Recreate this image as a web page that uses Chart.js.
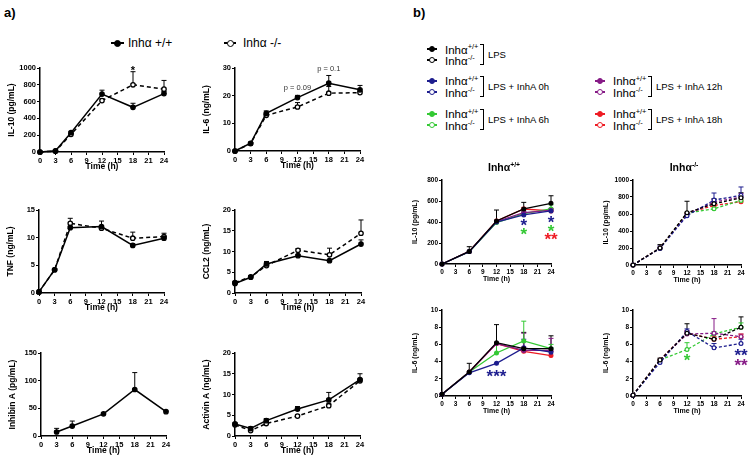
<!DOCTYPE html>
<html>
<head>
<meta charset="utf-8">
<script src="https://cdn.jsdelivr.net/npm/chart.js@4.4.0/dist/chart.umd.min.js"></script>
<style>
  body { margin: 0; width: 750px; height: 461px; position: relative; background: #fff; overflow: hidden;
         font-family: "Liberation Sans", Arial, sans-serif; }
  canvas { position: absolute; }
  .t { position: absolute; white-space: nowrap; color: #000; line-height: 1; }
  .t sup { font-size: 65%; vertical-align: 0; position: relative; top: -0.6em; }
</style>
</head>
<body>
<script>
// time points
const hoursA = [0, 3, 6, 12, 18, 24];
const hoursInhibin = [3, 6, 12, 18, 24];
const hoursB = [0, 6, 12, 18, 24];

// panel a) means and upper error (SEM)
const il10WT = [0, 15, 230, 690, 532, 695];
const il10WTErr = [0, 5, 12, 46, 48, 25];
const il10KO = [0, 10, 210, 612, 800, 748];
const il10KOErr = [0, 5, 10, 22, 156, 104];

const il6WT = [0, 2.8, 13.6, 19.3, 24.5, 22.1];
const il6WTErr = [0, 0.3, 0.9, 0.8, 2.8, 1.6];
const il6KO = [0, 2.7, 12.9, 15.9, 20.9, 21.1];
const il6KOErr = [0, 0.3, 0.5, 1.6, 2.4, 0.5];

const tnfWT = [0.2, 4.2, 11.8, 12.0, 8.6, 9.9];
const tnfWTErr = [0, 0.2, 0.3, 1.0, 0.3, 0.3];
const tnfKO = [0.2, 4.2, 12.6, 11.7, 9.9, 10.2];
const tnfKOErr = [0, 0.2, 0.9, 0.5, 1.1, 0.6];

const ccl2WT = [2.3, 3.8, 7.0, 9.0, 7.8, 11.8];
const ccl2WTErr = [0.3, 0.2, 0.6, 0.3, 0.3, 1.0];
const ccl2KO = [2.5, 3.9, 6.6, 10.3, 9.2, 14.4];
const ccl2KOErr = [0.3, 0.2, 0.3, 0.4, 1.6, 3.2];

const inhibinWT = [7.2, 18, 40, 84, 44];
const inhibinWTErr = [6.6, 9, 1, 30.6, 1];

const activinWT = [2.9, 1.8, 3.7, 6.5, 8.7, 13.6];
const activinWTErr = [0.3, 0.4, 0.5, 0.6, 1.8, 1.4];
const activinKO = [2.7, 1.3, 3.0, 4.8, 7.3, 13.3];
const activinKOErr = [0.2, 0.3, 0.3, 0.3, 0.6, 0.5];

// panel b) IL-10, Inha +/+
const bIl10WT_LPS = [0, 120, 410, 524, 578];
const bIl10WT_LPSErr = [0, 45, 104, 63, 72];
const bIl10WT_0h = [0, 118, 400, 467, 505];
const bIl10WT_0hErr = [0, 0, 0, 20, 20];
const bIl10WT_6h = [0, 118, 395, 480, 524];
const bIl10WT_6hErr = [0, 0, 0, 20, 40];
const bIl10WT_12h = [0, 120, 405, 490, 510];
const bIl10WT_12hErr = [0, 0, 0, 15, 20];
const bIl10WT_18h = [0, 120, 410, 524, 505];
const bIl10WT_18hErr = [0, 0, 0, 15, 15];

// panel b) IL-10, Inha -/-
const bIl10KO_LPS = [0, 200, 615, 720, 790];
const bIl10KO_LPSErr = [0, 40, 135, 60, 60];
const bIl10KO_0h = [0, 195, 580, 764, 819];
const bIl10KO_0hErr = [0, 30, 40, 83, 99];
const bIl10KO_6h = [0, 200, 610, 661, 760];
const bIl10KO_6hErr = [0, 0, 0, 20, 30];
const bIl10KO_12h = [0, 200, 600, 740, 800];
const bIl10KO_12hErr = [0, 0, 0, 30, 40];
const bIl10KO_18h = [0, 200, 610, 700, 745];
const bIl10KO_18hErr = [0, 0, 0, 20, 20];

// panel b) IL-6, Inha +/+
const bIl6WT_LPS = [0.2, 2.8, 6.2, 5.5, 5.5];
const bIl6WT_LPSErr = [0, 1.0, 2.1, 1.9, 1.5];
const bIl6WT_0h = [0.2, 2.7, 3.8, 5.6, 5.1];
const bIl6WT_0hErr = [0, 0, 0, 1.0, 0.5];
const bIl6WT_6h = [0.2, 2.8, 5.0, 6.4, 5.5];
const bIl6WT_6hErr = [0, 0, 1.0, 2.3, 0.5];
const bIl6WT_12h = [0.2, 2.8, 6.1, 5.3, 5.3];
const bIl6WT_12hErr = [0, 0, 0, 2.0, 1.4];
const bIl6WT_18h = [0.2, 2.8, 6.1, 5.2, 4.7];
const bIl6WT_18hErr = [0, 0, 0, 0.5, 0.5];

// panel b) IL-6, Inha -/-
const bIl6KO_LPS = [0.1, 4.2, 7.3, 6.6, 8.0];
const bIl6KO_LPSErr = [0, 0.2, 1.1, 0.6, 1.2];
const bIl6KO_0h = [0.1, 3.9, 7.5, 5.6, 6.1];
const bIl6KO_0hErr = [0, 0.2, 0.3, 0.5, 0.5];
const bIl6KO_6h = [0.1, 4.2, 5.4, 7.2, 8.0];
const bIl6KO_6hErr = [0, 0, 0.8, 0.3, 0.5];
const bIl6KO_12h = [0.1, 4.2, 7.2, 7.3, 6.9];
const bIl6KO_12hErr = [0, 0, 0.3, 1.7, 0.3];
const bIl6KO_18h = [0.1, 4.2, 7.3, 6.6, 6.9];
const bIl6KO_18hErr = [0, 0, 0.3, 0.3, 0.3];

const BLACK = '#000000', BLUE = '#1d1d8e', GREEN = '#34c934', PURPLE = '#861a86', RED = '#ee1c24';

// significance marks (data coordinates)
const il10Stars = [{ x: 18, y: 1000, text: '*', color: BLACK }];
const il6PValues = [{ x: 12, y: 22.8, text: 'p = 0.09' }, { x: 18, y: 29.6, text: 'p = 0.1' }];
const bIl10WTStars = [
  { x: 18, y: 404, text: '*', color: BLUE }, { x: 18, y: 322, text: '*', color: GREEN },
  { x: 24, y: 435, text: '*', color: BLUE }, { x: 24, y: 355, text: '*', color: GREEN },
  { x: 24, y: 272, text: '**', color: RED }
];
const bIl6WTStars = [{ x: 12, y: 2.8, text: '***', color: BLUE }];
const bIl6KOStars = [
  { x: 12, y: 4.6, text: '*', color: GREEN },
  { x: 24, y: 5.2, text: '**', color: BLUE }, { x: 24, y: 4.1, text: '**', color: PURPLE }
];

const FONT = '"Liberation Sans", Arial, sans-serif';

// draws one-sided (upper) error bars from dataset.errors
const errorBars = {
  id: 'errorBars',
  beforeDatasetsDraw(chart) {
    const ctx = chart.ctx, xs = chart.scales.x, ys = chart.scales.y;
    chart.data.datasets.forEach(ds => {
      if (!ds.errors) return;
      ctx.save();
      ctx.strokeStyle = ds.borderColor;
      ctx.lineWidth = 1;
      ds.data.forEach((p, j) => {
        const e = ds.errors[j];
        if (!e) return;
        const px = xs.getPixelForValue(p.x);
        const py = ys.getPixelForValue(p.y);
        const pt = ys.getPixelForValue(p.y + e);
        ctx.beginPath();
        ctx.moveTo(px, py); ctx.lineTo(px, pt);
        ctx.moveTo(px - 2.5, pt); ctx.lineTo(px + 2.5, pt);
        ctx.stroke();
      });
      ctx.restore();
    });
  }
};

// text marks (asterisks, p values) placed on the chart scales
const notes = {
  id: 'notes',
  afterDatasetsDraw(chart, args, opts) {
    const items = opts.items || [];
    const ctx = chart.ctx, xs = chart.scales.x, ys = chart.scales.y;
    items.forEach(it => {
      const px = xs.getPixelForValue(it.x), py = ys.getPixelForValue(it.y);
      ctx.save();
      ctx.textAlign = 'center';
      if (it.text.indexOf('*') === 0) {
        const size = opts.starSize;
        ctx.font = 'bold ' + size + 'px ' + FONT;
        ctx.fillStyle = it.color;
        ctx.textBaseline = 'alphabetic';
        ctx.fillText(it.text, px, py + size * 0.58);
      } else {
        ctx.font = '7.5px ' + FONT;
        ctx.fillStyle = '#333';
        ctx.textBaseline = 'middle';
        ctx.fillText(it.text, px, py);
      }
      ctx.restore();
    });
  }
};

function series(hours, vals, errs, color, ko, small) {
  return {
    data: hours.map((h, i) => ({ x: h, y: vals[i] })),
    errors: errs,
    borderColor: color,
    backgroundColor: color,
    borderWidth: small ? 1.3 : 1.5,
    borderDash: ko ? (small ? [3, 2] : [4, 3]) : [],
    pointRadius: small ? 1.9 : 2.2,
    pointBorderWidth: small ? 1.2 : 1.3,
    pointBackgroundColor: ko ? '#fff' : color,
    pointBorderColor: color,
    tension: 0,
    clip: false
  };
}

function makeChart(o) {
  const padT = 10, padR = 12;
  const small = o.panel === 'b';
  const yW = small ? 31 : 33, xH = small ? 19 : 20;
  const tickSize = small ? 6.5 : 7.5, titleSize = small ? 7 : 8.5;
  const w = o.x1 - o.x0 + yW + padR;
  const h = o.y1 - o.y0 + padT + xH;
  const c = document.createElement('canvas');
  c.width = w; c.height = h;
  c.style.left = (o.x0 - yW) + 'px';
  c.style.top = (o.y0 - padT) + 'px';
  c.style.width = w + 'px';
  c.style.height = h + 'px';
  document.body.appendChild(c);

  const tickFont = { family: FONT, size: tickSize, weight: 'bold' };
  const titleFont = { family: FONT, size: titleSize, weight: 'bold' };
  const grid = { display: true, drawOnChartArea: false, drawTicks: true, tickLength: 3, tickColor: '#000', tickWidth: 1 };
  const border = { display: true, color: '#000', width: 1.5 };

  new Chart(c, {
    type: 'line',
    data: { datasets: o.datasets },
    options: {
      responsive: false,
      animation: false,
      devicePixelRatio: 1,
      layout: { padding: { left: 0, top: padT, right: padR, bottom: 0 } },
      plugins: {
        legend: { display: false },
        tooltip: { enabled: false },
        notes: { items: o.notes || [], starSize: small ? 17 : 11 }
      },
      scales: {
        x: {
          type: 'linear', min: 0, max: 24,
          ticks: { stepSize: 3, font: tickFont, color: '#000', padding: 1, maxRotation: 0, autoSkip: false,
                   callback: v => String(v) },
          grid: grid, border: border,
          title: { display: true, text: 'Time (h)', font: titleFont, color: '#000', padding: 0 },
          afterFit: s => { s.height = xH; }
        },
        y: {
          type: 'linear', min: 0, max: o.yMax,
          ticks: { stepSize: o.yStep, font: tickFont, color: '#000', padding: 1, callback: v => String(v) },
          grid: grid, border: border,
          title: { display: true, text: o.yTitle, font: titleFont, color: '#000', padding: 0 },
          afterFit: s => { s.width = yW; }
        }
      }
    },
    plugins: [errorBars, notes]
  });
}

// ---- panel a) charts
makeChart({ panel: 'a', x0: 40, y0: 68, x1: 164, y1: 152, yMax: 1000, yStep: 200, yTitle: 'IL-10 (pg/mL)',
  datasets: [series(hoursA, il10WT, il10WTErr, BLACK, false), series(hoursA, il10KO, il10KOErr, BLACK, true)],
  notes: il10Stars });
makeChart({ panel: 'a', x0: 235, y0: 68, x1: 360, y1: 151, yMax: 30, yStep: 10, yTitle: 'IL-6 (ng/mL)',
  datasets: [series(hoursA, il6WT, il6WTErr, BLACK, false), series(hoursA, il6KO, il6KOErr, BLACK, true)],
  notes: il6PValues });
makeChart({ panel: 'a', x0: 39, y0: 210, x1: 164, y1: 293, yMax: 15, yStep: 5, yTitle: 'TNF (ng/mL)',
  datasets: [series(hoursA, tnfWT, tnfWTErr, BLACK, false), series(hoursA, tnfKO, tnfKOErr, BLACK, true)] });
makeChart({ panel: 'a', x0: 235, y0: 210, x1: 361, y1: 293, yMax: 20, yStep: 5, yTitle: 'CCL2 (ng/mL)',
  datasets: [series(hoursA, ccl2WT, ccl2WTErr, BLACK, false), series(hoursA, ccl2KO, ccl2KOErr, BLACK, true)] });
makeChart({ panel: 'a', x0: 41, y0: 353, x1: 166, y1: 436, yMax: 150, yStep: 50, yTitle: 'Inhibin A (pg/mL)',
  datasets: [series(hoursInhibin, inhibinWT, inhibinWTErr, BLACK, false)] });
makeChart({ panel: 'a', x0: 235, y0: 353, x1: 360, y1: 436, yMax: 20, yStep: 5, yTitle: 'Activin A (ng/mL)',
  datasets: [series(hoursA, activinWT, activinWTErr, BLACK, false), series(hoursA, activinKO, activinKOErr, BLACK, true)] });

// ---- panel b) charts
makeChart({ panel: 'b', x0: 442, y0: 180, x1: 551, y1: 264, yMax: 800, yStep: 200, yTitle: 'IL-10 (pg/mL)',
  datasets: [
    series(hoursB, bIl10WT_LPS, bIl10WT_LPSErr, BLACK, false, true),
    series(hoursB, bIl10WT_0h, bIl10WT_0hErr, BLUE, false, true),
    series(hoursB, bIl10WT_12h, bIl10WT_12hErr, PURPLE, false, true),
    series(hoursB, bIl10WT_6h, bIl10WT_6hErr, GREEN, false, true),
    series(hoursB, bIl10WT_18h, bIl10WT_18hErr, RED, false, true)
  ], notes: bIl10WTStars });
makeChart({ panel: 'b', x0: 633, y0: 180, x1: 741, y1: 265, yMax: 1000, yStep: 200, yTitle: 'IL-10 (pg/mL)',
  datasets: [
    series(hoursB, bIl10KO_LPS, bIl10KO_LPSErr, BLACK, true, true),
    series(hoursB, bIl10KO_0h, bIl10KO_0hErr, BLUE, true, true),
    series(hoursB, bIl10KO_12h, bIl10KO_12hErr, PURPLE, true, true),
    series(hoursB, bIl10KO_6h, bIl10KO_6hErr, GREEN, true, true),
    series(hoursB, bIl10KO_18h, bIl10KO_18hErr, RED, true, true)
  ] });
makeChart({ panel: 'b', x0: 442, y0: 310, x1: 551, y1: 396, yMax: 10, yStep: 2, yTitle: 'IL-6 (ng/mL)',
  datasets: [
    series(hoursB, bIl6WT_LPS, bIl6WT_LPSErr, BLACK, false, true),
    series(hoursB, bIl6WT_0h, bIl6WT_0hErr, BLUE, false, true),
    series(hoursB, bIl6WT_12h, bIl6WT_12hErr, PURPLE, false, true),
    series(hoursB, bIl6WT_6h, bIl6WT_6hErr, GREEN, false, true),
    series(hoursB, bIl6WT_18h, bIl6WT_18hErr, RED, false, true)
  ], notes: bIl6WTStars });
makeChart({ panel: 'b', x0: 633, y0: 310, x1: 741, y1: 396, yMax: 10, yStep: 2, yTitle: 'IL-6 (ng/mL)',
  datasets: [
    series(hoursB, bIl6KO_LPS, bIl6KO_LPSErr, BLACK, true, true),
    series(hoursB, bIl6KO_0h, bIl6KO_0hErr, BLUE, true, true),
    series(hoursB, bIl6KO_12h, bIl6KO_12hErr, PURPLE, true, true),
    series(hoursB, bIl6KO_6h, bIl6KO_6hErr, GREEN, true, true),
    series(hoursB, bIl6KO_18h, bIl6KO_18hErr, RED, true, true)
  ], notes: bIl6KOStars });

// ---- html labels and legends
function label(html, x, y, size, extra) {
  const d = document.createElement('div');
  d.className = 't';
  d.innerHTML = html;
  d.style.left = x + 'px';
  d.style.top = y + 'px';
  d.style.fontSize = size + 'px';
  d.style.transform = 'translateY(-50%)' + (extra && extra.center ? ' translateX(-50%)' : '');
  if (extra && extra.bold) d.style.fontWeight = 'bold';
  document.body.appendChild(d);
}

function marker(cx, cy, color, open, len, r) {
  const l = document.createElement('div');
  l.style.cssText = `position:absolute;left:${cx - len / 2}px;top:${cy - 1}px;width:${len}px;height:2px;background:${color}`;
  document.body.appendChild(l);
  const c = document.createElement('div');
  c.style.cssText = `position:absolute;left:${cx - r}px;top:${cy - r}px;width:${2 * r}px;height:${2 * r}px;box-sizing:border-box;border:1.6px solid ${color};border-radius:50%;background:${open ? '#fff' : color}`;
  document.body.appendChild(c);
}

function bracket(x, y1, y2) {
  const b = document.createElement('div');
  b.style.cssText = `position:absolute;left:${x - 4}px;top:${y1}px;width:4px;height:${y2 - y1}px;border:1px solid #000;border-left:none;box-sizing:border-box`;
  document.body.appendChild(b);
}

label('a)', 4, 12, 13, { bold: true });
label('b)', 413, 12, 13, { bold: true });

marker(117, 43, BLACK, false, 13, 3.5);
label('Inh&alpha; +/+', 128, 43, 12);
marker(230, 43, BLACK, true, 12, 3.5);
label('Inh&alpha; -/-', 243, 43, 12);

// panel b legend rows
const legendRows = [
  { x: 432, y1: 49, y2: 60, color: BLACK, text: 'LPS', bx: 484 },
  { x: 432, y1: 80.5, y2: 92, color: BLUE, text: 'LPS + InhA 0h', bx: 484 },
  { x: 432, y1: 113.5, y2: 125, color: GREEN, text: 'LPS + InhA 6h', bx: 484 },
  { x: 600, y1: 80.5, y2: 92, color: PURPLE, text: 'LPS + InhA 12h', bx: 652 },
  { x: 600, y1: 113.5, y2: 125, color: RED, text: 'LPS + InhA 18h', bx: 652 }
];
legendRows.forEach(r => {
  marker(r.x, r.y1, r.color, false, 10, 3);
  marker(r.x, r.y2, r.color, true, 10, 3);
  label('Inh&alpha;<sup>+/+</sup>', r.x + 13, r.y1 + 1.5, 11.5);
  label('Inh&alpha;<sup>-/-</sup>', r.x + 13, r.y2 + 1.5, 11.5);
  bracket(r.bx, r.y1 - 5, r.y2 + 5);
  label(r.text, r.bx + 4, (r.y1 + r.y2) / 2 + 0.5, 9.5);
});

label('Inh&alpha;<sup>+/+</sup>', 504, 167, 10.5, { bold: true, center: true });
label('Inh&alpha;<sup>-/-</sup>', 684, 167, 10.5, { bold: true, center: true });
</script>
</body>
</html>
